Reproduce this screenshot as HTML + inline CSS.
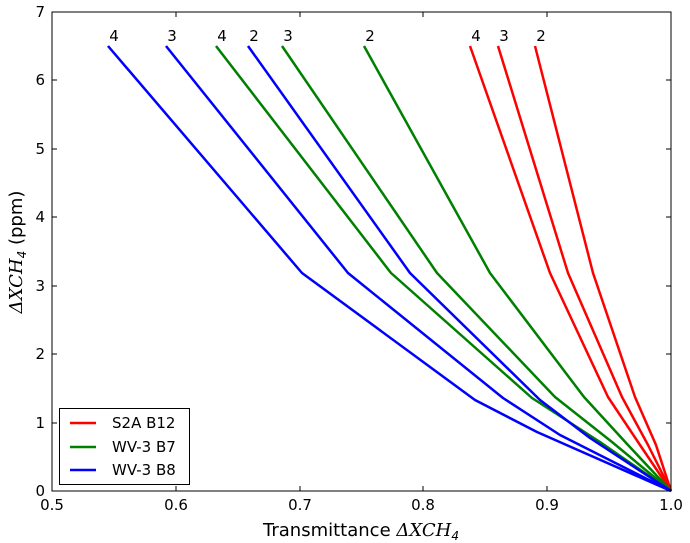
<!DOCTYPE html>
<html><head><style>body{margin:0;background:#fff}svg{display:block}</style></head><body>
<svg width="690" height="543" xmlns="http://www.w3.org/2000/svg" font-family="DejaVu Sans, Liberation Sans, sans-serif">
<rect width="690" height="543" fill="#fff"/>
<g fill="none" stroke-width="2.5" stroke-linejoin="round">
<polyline stroke="#f00" points="470,46 550,273 608,397 640,445 671,491"/>
<polyline stroke="#f00" points="498,46 568,273 622,397 648,445 671,491"/>
<polyline stroke="#f00" points="535,46 593,273 635,397 656,445 671,491"/>
<polyline stroke="#008000" points="216,46 391,273 532,398 600,442 671,491"/>
<polyline stroke="#008000" points="282,46 437,273 555,397 612,442 671,491"/>
<polyline stroke="#008000" points="364,46 490,273 584,397 628,445 671,491"/>
<polyline stroke="#00f" points="108,46 302,273 475,400 537,432 671,491"/>
<polyline stroke="#00f" points="166,46 348,273 503,398 560,435 671,491"/>
<polyline stroke="#00f" points="248,46 410,273 540,400 590,438 671,491"/>
</g>
<g font-size="15" fill="#000" text-anchor="middle">
<text x="114" y="41">4</text><text x="172" y="41">3</text><text x="222" y="41">4</text><text x="254" y="41">2</text><text x="288" y="41">3</text><text x="370" y="41">2</text><text x="476" y="41">4</text><text x="504" y="41">3</text><text x="541" y="41">2</text>
</g>
<rect x="52" y="12" width="619" height="479" fill="none" stroke="#000" stroke-width="1"/>
<g stroke="#000" stroke-width="1">
<path d="M52,491v-5M52,12v5M176,491v-5M176,12v5M300,491v-5M300,12v5M423,491v-5M423,12v5M547,491v-5M547,12v5M671,491v-5M671,12v5"/>
<path d="M52,491h5M671,491h-5M52,423h5M671,423h-5M52,354h5M671,354h-5M52,286h5M671,286h-5M52,217h5M671,217h-5M52,149h5M671,149h-5M52,80h5M671,80h-5M52,12h5M671,12h-5"/>
</g>
<g font-size="15" text-anchor="middle">
<text x="52" y="510">0.5</text><text x="176" y="510">0.6</text><text x="300" y="510">0.7</text><text x="423" y="510">0.8</text><text x="547" y="510">0.9</text><text x="671" y="510">1.0</text>
</g>
<g font-size="15" text-anchor="end">
<text x="45" y="496">0</text><text x="45" y="428">1</text><text x="45" y="359">2</text><text x="45" y="291">3</text><text x="45" y="222">4</text><text x="45" y="154">5</text><text x="45" y="85">6</text><text x="45" y="17">7</text>
</g>
<text x="361" y="536" font-size="18" text-anchor="middle">Transmittance <tspan font-style="italic" font-family="DejaVu Serif, serif">ΔXCH</tspan><tspan font-size="12" dy="4" font-style="italic">4</tspan></text>
<text transform="translate(22,252) rotate(-90)" font-size="18" text-anchor="middle"><tspan font-style="italic" font-family="DejaVu Serif, serif">ΔXCH</tspan><tspan font-size="12" dy="4" font-style="italic">4</tspan><tspan dy="-4"> (ppm)</tspan></text>
<rect x="59.500" y="408.500" width="130" height="76" fill="#fff" stroke="#000"/>
<g stroke-width="2.5"><line x1="70" y1="423" x2="96" y2="423" stroke="#f00"/><line x1="70" y1="447" x2="96" y2="447" stroke="#008000"/><line x1="70" y1="470" x2="96" y2="470" stroke="#00f"/></g>
<g font-size="15"><text x="112" y="428">S2A B12</text><text x="112" y="452">WV-3 B7</text><text x="112" y="475">WV-3 B8</text></g>
</svg>
</body></html>
